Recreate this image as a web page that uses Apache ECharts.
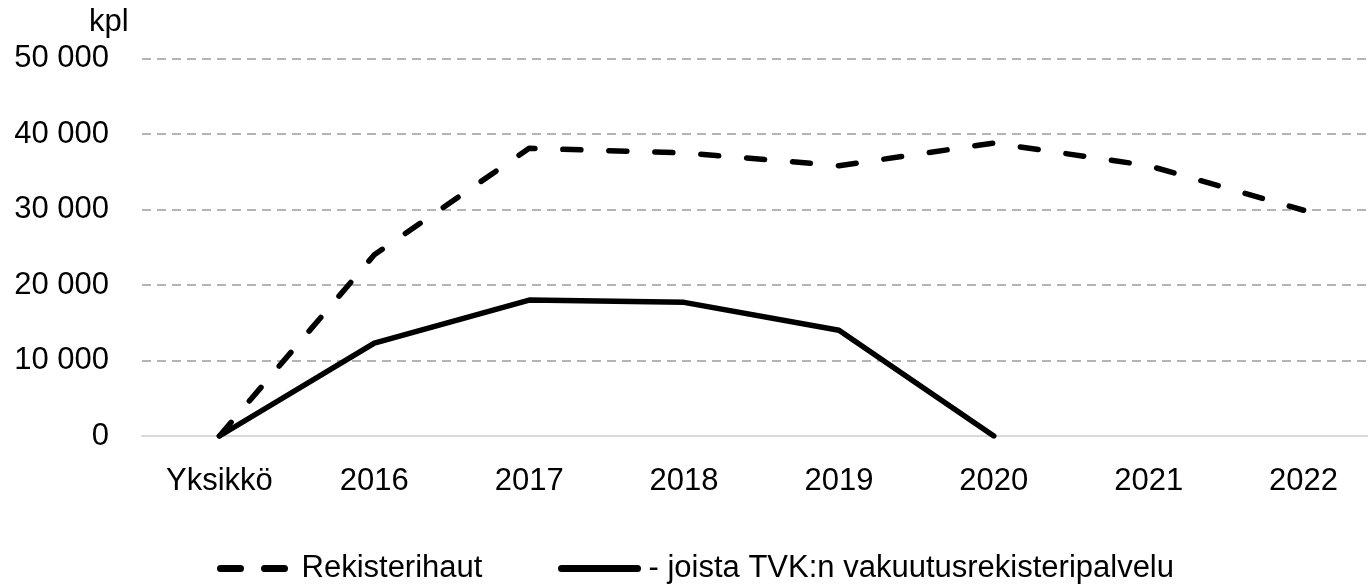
<!DOCTYPE html>
<html>
<head>
<meta charset="utf-8">
<script src="https://cdn.jsdelivr.net/npm/echarts@6/dist/echarts.min.js"></script>
<style>
  html, body { margin: 0; padding: 0; background: #fff; }
  #chart { width: 1368px; height: 586px; }
</style>
</head>
<body>
<div id="chart"></div>
<script>
// Categories along the x axis
const categories = ['Yksikkö', '2016', '2017', '2018', '2019', '2020', '2021', '2022'];

// Series values (kpl)
const rekisterihaut = [0, 24000, 38100, 37500, 35800, 38800, 35800, 29900];
const tvkPalvelu = [0, 12300, 18000, 17700, 14000, 0, null, null];

// Series names
const nameHaut = 'Rekisterihaut';
const nameTvk = '- joista TVK:n vakuutusrekisteripalvelu';

// Y axis range
const yMin = 0;
const yMax = 50000;
const yStep = 10000;

const FONT = '"Liberation Sans", Arial, sans-serif';
const FS = 31;

function fmtThousands(v) {
  return String(v).replace(/\B(?=(\d{3})+(?!\d))/g, ' ');
}

// Legend swatches show only the line, no point marker
const hiddenMarker = { color: 'rgba(0,0,0,0)', borderWidth: 0, opacity: 0 };

const chart = echarts.init(document.getElementById('chart'), null, { renderer: 'canvas' });

chart.setOption({
  animation: false,
  backgroundColor: '#ffffff',
  textStyle: { fontFamily: FONT },
  grid: {
    left: 142, right: -13, top: 58.5, bottom: 150,
    containLabel: false,
    outerBoundsMode: 'none'
  },
  graphic: [{
    type: 'text',
    x: 89,
    y: 22,
    style: {
      text: 'kpl',
      fill: '#000',
      font: FS + 'px ' + FONT,
      verticalAlign: 'middle',
      align: 'left'
    }
  }],
  xAxis: {
    type: 'category',
    data: categories,
    boundaryGap: true,
    axisLine: { show: true, lineStyle: { color: '#d9d9d9', width: 2 } },
    axisTick: { show: false },
    axisLabel: { color: '#000', fontSize: FS, fontFamily: FONT, margin: 30 },
    splitLine: { show: false }
  },
  yAxis: {
    type: 'value',
    min: yMin,
    max: yMax,
    interval: yStep,
    axisLine: { show: false },
    axisTick: { show: false },
    axisLabel: {
      color: '#000', fontSize: FS, fontFamily: FONT, margin: 33,
      formatter: fmtThousands
    },
    splitLine: {
      show: true,
      lineStyle: { color: '#b4b4b4', width: 2, type: [9, 6] }
    }
  },
  legend: [
    {
      data: [{
        name: nameHaut,
        itemStyle: hiddenMarker,
        lineStyle: { type: [20, 24], width: 7, cap: 'round', color: '#000' }
      }],
      left: 212,
      top: 548,
      itemWidth: 70,
      itemHeight: 14,
      itemGap: 0,
      textStyle: { color: '#000', fontSize: FS, fontFamily: FONT, padding: [0, 0, 0, 6] }
    },
    {
      data: [{
        name: nameTvk,
        itemStyle: hiddenMarker,
        lineStyle: { type: 'solid', width: 7, cap: 'round', color: '#000' }
      }],
      left: 553,
      top: 548,
      itemWidth: 76,
      itemHeight: 14,
      itemGap: 0,
      textStyle: { color: '#000', fontSize: FS, fontFamily: FONT, padding: [0, 0, 0, 6] }
    }
  ],
  series: [
    {
      name: nameHaut,
      type: 'line',
      data: rekisterihaut,
      symbol: 'none',
      showSymbol: false,
      connectNulls: false,
      lineStyle: { color: '#000', width: 5.5, type: [18, 28], cap: 'round', join: 'round' },
      itemStyle: { color: '#000' },
      z: 3
    },
    {
      name: nameTvk,
      type: 'line',
      data: tvkPalvelu,
      symbol: 'none',
      showSymbol: false,
      connectNulls: false,
      lineStyle: { color: '#000', width: 5.5, type: 'solid', cap: 'round', join: 'round' },
      itemStyle: { color: '#000' },
      z: 4
    }
  ]
});
</script>
</body>
</html>
